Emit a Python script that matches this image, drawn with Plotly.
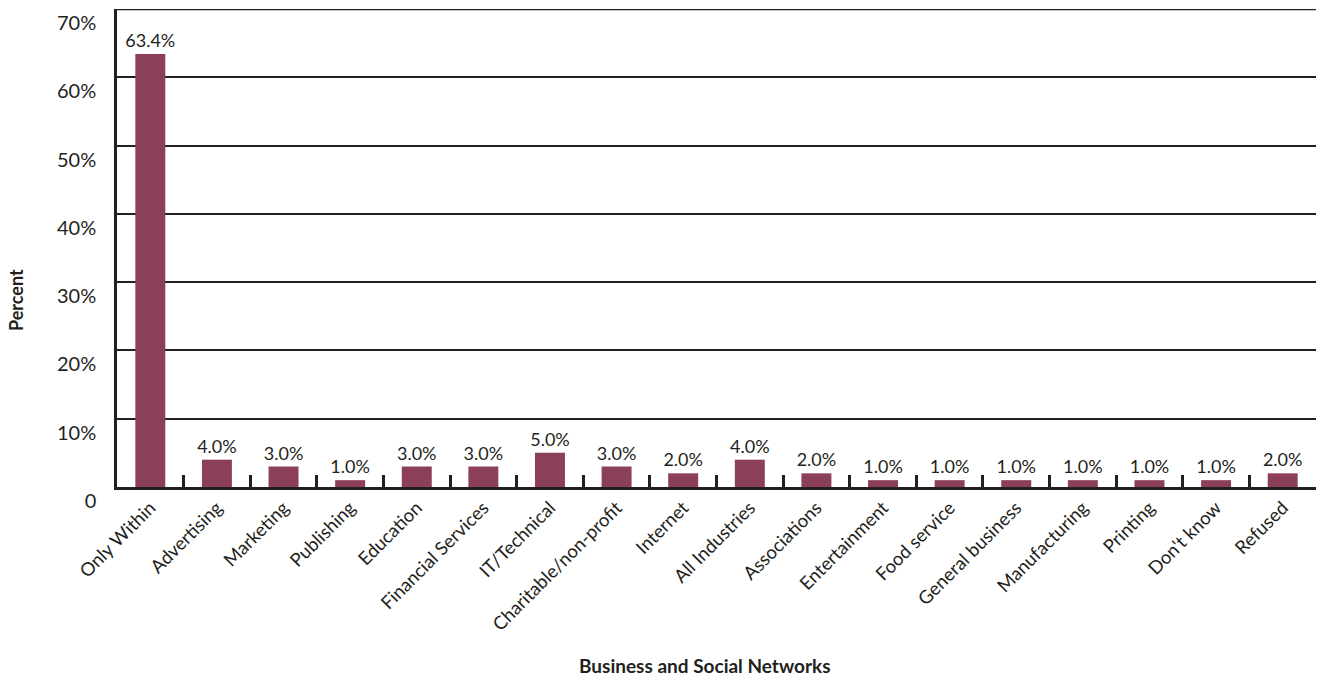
import plotly.graph_objects as go

categories = ["Only Within", "Advertising", "Marketing", "Publishing", "Education",
              "Financial Services", "IT/Technical", "Charitable/non-profit", "Internet",
              "All Industries", "Associations", "Entertainment", "Food service",
              "General business", "Manufacturing", "Printing", "Don't know", "Refused"]
values = [63.4, 4.0, 3.0, 1.0, 3.0, 3.0, 5.0, 3.0, 2.0, 4.0, 2.0, 1.0, 1.0, 1.0, 1.0, 1.0, 1.0, 2.0]
y_ticks = [0, 10, 20, 30, 40, 50, 60, 70]
y_tick_text = ["0", "10%", "20%", "30%", "40%", "50%", "60%", "70%"]
y_max = 70

FONT = "Lato"
INK = "#231f20"
BAR = "#8b3f5a"

L, R, T, B = 117, 4, 9, 194
W, H = 1320, 681
plot_w = W - L - R
plot_h = H - T - B

fig = go.Figure(go.Bar(
    x=categories,
    y=values,
    marker=dict(color=BAR, line=dict(width=0)),
    width=0.45,
    text=[f"{v:.1f}%" for v in values],
    textposition="outside",
    constraintext="none",
    textfont=dict(family=FONT, size=18, color=INK),
    cliponaxis=False,
))

fig.update_layout(
    width=W, height=H,
    margin=dict(l=L, r=R, t=T, b=B, autoexpand=False),
    paper_bgcolor="white", plot_bgcolor="white",
    showlegend=False,
    font=dict(family=FONT, color=INK),
    xaxis=dict(
        automargin=False,
        tickangle=-45,
        tickfont=dict(family=FONT, size=18.5, color=INK),
        showline=True, linecolor=INK, linewidth=2.5,
        ticks="inside", tickson="boundaries", ticklen=12, tickwidth=2.5, tickcolor=INK,
        showgrid=False,
    ),
    yaxis=dict(
        automargin=False,
        range=[0, y_max],
        tickvals=y_ticks, ticktext=y_tick_text,
        tickfont=dict(family=FONT, size=20, color=INK),
        ticklabelposition="outside bottom",
        ticklabeloverflow="allow",
        showline=True, linecolor=INK, linewidth=2.5,
        showgrid=True, gridcolor=INK, gridwidth=2,
        ticks="", ticklabelstandoff=14,
        zeroline=False,
    ),
    # top gridline at the end of the value range
    shapes=[dict(type="line", xref="paper", yref="y", x0=0, x1=1, y0=y_max, y1=y_max,
                 line=dict(color=INK, width=2.5), layer="above")],
    annotations=[
        dict(text="<b>Business and Social Networks</b>",
             x=(705 - L) / plot_w, y=-(665 - (T + plot_h)) / plot_h,
             xref="paper", yref="paper", xanchor="center", yanchor="middle",
             showarrow=False, font=dict(family=FONT, size=19, color=INK)),
        dict(text="<b>Percent</b>",
             x=(16 - L) / plot_w, y=(T + plot_h - 300) / plot_h,
             xref="paper", yref="paper",
             textangle=-90, showarrow=False, xanchor="center", yanchor="middle",
             font=dict(family=FONT, size=18, color=INK)),
    ],
)

fig.write_html("out.html")
